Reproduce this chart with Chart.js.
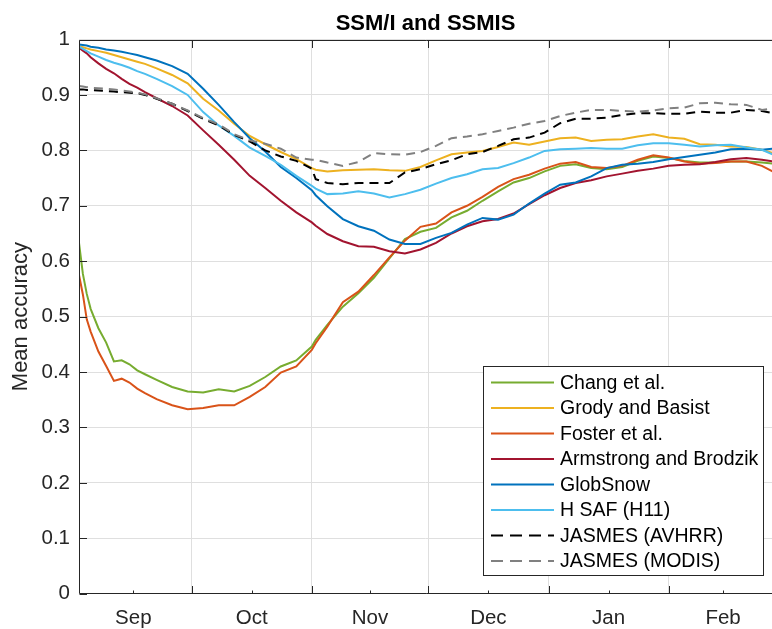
<!DOCTYPE html>
<html><head><meta charset="utf-8">
<script src="https://cdn.jsdelivr.net/npm/chart.js@4.4.0/dist/chart.umd.min.js"></script>
<style>html,body{margin:0;padding:0;background:#fff;}#wrap{width:772px;height:629px;position:relative;}</style>
</head><body><div id="wrap"><canvas id="c" width="772" height="629"></canvas></div>
<script>
// x values: day of season (Sep 1 = 1, Oct 1 = 31, Nov 1 = 62, Dec 1 = 92, Jan 1 = 123, Feb 1 = 154)
const days = [2,3,4,5,7,9,11,13,15,17,19,22,26,30,34,38,42,46,50,54,58,62,63,66,70,74,78,82,86,90,94,98,102,106,110,114,118,122,126,130,134,138,142,146,150,154,158,162,166,170,174,178,181];

const changEtAl = [0.633,0.577,0.541,0.514,0.479,0.453,0.419,0.421,0.414,0.403, 0.396,0.386,0.373,0.365,0.363,0.369,0.365,0.375,0.391,0.410, 0.421,0.446,0.458,0.485,0.518,0.542,0.570,0.605,0.640,0.653, 0.660,0.679,0.691,0.709,0.726,0.742,0.750,0.762,0.772,0.775, 0.768,0.766,0.770,0.781,0.789,0.786,0.781,0.778,0.778,0.780, 0.780,0.778,0.776];
const grodyBasist = [0.988,0.986,0.984,0.982,0.979,0.976,0.972,0.968,0.964,0.960, 0.956,0.948,0.936,0.921,0.893,0.872,0.848,0.826,0.811,0.797, 0.784,0.768,0.765,0.762,0.764,0.765,0.766,0.764,0.763,0.770, 0.782,0.793,0.796,0.799,0.806,0.814,0.810,0.816,0.822,0.823, 0.817,0.819,0.820,0.825,0.829,0.823,0.821,0.811,0.810,0.807, 0.806,0.801,0.795];
const fosterEtAl = [0.575,0.540,0.495,0.473,0.437,0.411,0.384,0.388,0.381,0.370, 0.362,0.351,0.340,0.333,0.335,0.340,0.340,0.355,0.373,0.399, 0.410,0.440,0.452,0.482,0.526,0.545,0.575,0.607,0.637,0.662, 0.668,0.688,0.700,0.716,0.734,0.748,0.756,0.767,0.776,0.779, 0.770,0.768,0.772,0.783,0.791,0.787,0.780,0.776,0.777,0.780, 0.780,0.772,0.761];
const armstrongBrodzik = [0.985,0.980,0.975,0.968,0.957,0.947,0.939,0.929,0.920,0.913, 0.905,0.894,0.880,0.863,0.836,0.810,0.783,0.754,0.732,0.709, 0.688,0.670,0.664,0.649,0.636,0.627,0.626,0.618,0.614,0.621, 0.633,0.650,0.663,0.672,0.676,0.686,0.703,0.719,0.732,0.741, 0.746,0.753,0.758,0.763,0.767,0.772,0.774,0.775,0.779,0.784, 0.786,0.783,0.780];
const globSnow = [0.991,0.990,0.989,0.987,0.985,0.982,0.980,0.978,0.975,0.972, 0.968,0.962,0.952,0.938,0.911,0.882,0.851,0.822,0.798,0.770, 0.750,0.728,0.719,0.699,0.676,0.663,0.655,0.639,0.631,0.631, 0.642,0.651,0.666,0.678,0.675,0.684,0.704,0.722,0.738,0.742, 0.753,0.768,0.774,0.776,0.779,0.784,0.788,0.792,0.796,0.802, 0.803,0.801,0.803];
const hSafH11 = [0.987,0.983,0.979,0.975,0.969,0.963,0.958,0.954,0.949,0.943, 0.938,0.929,0.916,0.900,0.869,0.845,0.826,0.805,0.790,0.774, 0.754,0.736,0.731,0.721,0.722,0.726,0.722,0.715,0.721,0.729, 0.740,0.750,0.757,0.766,0.768,0.777,0.787,0.799,0.802,0.803, 0.804,0.803,0.803,0.809,0.813,0.813,0.810,0.807,0.809,0.810, 0.805,0.801,0.792];
const jasmesAvhrr = [0.910,0.910,0.909,0.909,0.908,0.907,0.906,0.905,0.904,0.903, 0.900,0.893,0.884,0.871,0.857,0.845,0.828,0.816,0.800,0.789, 0.781,0.767,0.748,0.741,0.739,0.741,0.741,0.741,0.760,0.766, 0.775,0.782,0.793,0.797,0.808,0.820,0.823,0.832,0.849,0.857, 0.857,0.859,0.864,0.867,0.867,0.866,0.866,0.870,0.868,0.868, 0.873,0.871,0.867];
const jasmesModis = [0.916,0.915,0.914,0.913,0.912,0.911,0.910,0.908,0.906,0.904, 0.901,0.894,0.884,0.872,0.858,0.847,0.829,0.818,0.812,0.803, 0.787,0.783,0.783,0.778,0.772,0.779,0.795,0.793,0.792,0.797, 0.808,0.822,0.825,0.829,0.835,0.841,0.848,0.853,0.862,0.868, 0.873,0.873,0.871,0.870,0.872,0.876,0.877,0.885,0.886,0.883, 0.882,0.873,0.876];

const seriesNames = ['Chang et al.','Grody and Basist','Foster et al.','Armstrong and Brodzik','GlobSnow','H SAF (H11)','JASMES (AVHRR)','JASMES (MODIS)'];
const seriesValues = [changEtAl, grodyBasist, fosterEtAl, armstrongBrodzik, globSnow, hSafH11, jasmesAvhrr, jasmesModis];
const seriesColors = ['#77AC30','#EDB120','#D95319','#A2142F','#0072BD','#4DBEEE','#000000','#808080'];
const seriesDashed = [false,false,false,false,false,false,true,true];

const monthStarts = [31,62,92,123,154];
const monthMids = [16,46.5,77,107.5,138.5,168];
const monthLabels = ['Sep','Oct','Nov','Dec','Jan','Feb'];
const yTickValues = [0,0.1,0.2,0.3,0.4,0.5,0.6,0.7,0.8,0.9,1];
const yTickLabels = ['0','0.1','0.2','0.3','0.4','0.5','0.6','0.7','0.8','0.9','1'];

const FONT = '"Liberation Sans", Arial, Helvetica, sans-serif';
Chart.defaults.font.family = FONT;
const AX = '#262626';
const GRID = '#dfdfdf';

const datasets = seriesNames.map((name, i) => ({
  label: name,
  data: days.map((d, k) => ({x: d, y: seriesValues[i][k]})),
  borderColor: seriesColors[i],
  backgroundColor: seriesColors[i],
  borderWidth: 2,
  borderDash: seriesDashed[i] ? [9, 6] : [],
  pointRadius: 0,
  tension: 0,
  fill: false,
  order: seriesNames.length - i
}));

const axesDecor = {
  id: 'axesDecor',
  afterDatasetsDraw(chart) {
    const {ctx, chartArea: a, scales: {x, y}} = chart;
    ctx.save();
    ctx.strokeStyle = AX; ctx.lineWidth = 1; ctx.setLineDash([]);
    const L = Math.round(a.left) + 0.5, T = Math.round(a.top) + 0.5, B = Math.round(a.bottom) - 0.5, R = a.right + 2;
    ctx.beginPath();
    ctx.moveTo(L, T); ctx.lineTo(R, T);
    ctx.moveTo(L, T); ctx.lineTo(L, B);
    ctx.moveTo(L, B); ctx.lineTo(R, B);
    monthStarts.forEach(v => {
      const px = Math.round(x.getPixelForValue(v)) + 0.5;
      ctx.moveTo(px, B); ctx.lineTo(px, B - 7.5);
      ctx.moveTo(px, T); ctx.lineTo(px, T + 7.5);
    });
    monthMids.forEach(v => {
      const px = Math.round(x.getPixelForValue(v)) + 0.5;
      ctx.moveTo(px, B); ctx.lineTo(px, B - 3);
    });
    yTickValues.forEach(v => {
      const py = Math.round(y.getPixelForValue(v)) + 0.5;
      ctx.moveTo(L, py); ctx.lineTo(L + 7.5, py);
    });
    ctx.stroke();
    ctx.restore();
  }
};

const boxLegend = {
  id: 'boxLegend',
  afterDraw(chart) {
    const ctx = chart.ctx;
    ctx.save();
    const bx = 483.5, by = 366.5, bw = 280, bh = 209;
    ctx.fillStyle = '#fff'; ctx.fillRect(bx, by, bw, bh);
    ctx.strokeStyle = AX; ctx.lineWidth = 1; ctx.setLineDash([]);
    ctx.strokeRect(bx, by, bw, bh);
    ctx.font = '19.5px ' + FONT;
    ctx.textBaseline = 'middle';
    ctx.textAlign = 'left';
    chart.data.datasets.forEach((ds, i) => {
      const yy = 382.5 + i * 25.5;
      ctx.strokeStyle = ds.borderColor; ctx.lineWidth = 2;
      ctx.setLineDash(ds.borderDash && ds.borderDash.length ? [12, 7] : []);
      ctx.beginPath(); ctx.moveTo(491, yy); ctx.lineTo(554, yy); ctx.stroke();
      ctx.setLineDash([]);
      ctx.fillStyle = '#000';
      ctx.fillText(ds.label, 560, yy + 1);
    });
    ctx.restore();
  }
};

new Chart(document.getElementById('c'), {
  type: 'line',
  data: {datasets},
  plugins: [axesDecor, boxLegend],
  options: {
    responsive: false,
    animation: false,
    events: [],
    layout: {padding: 0},
    plugins: {
      legend: {display: false},
      tooltip: {enabled: false},
      title: {
        display: true, text: 'SSM/I and SSMIS', fullSize: false, color: '#000',
        font: {size: 22, weight: 'bold', family: FONT, lineHeight: 1.2},
        padding: {top: 11, bottom: 2.1}
      }
    },
    scales: {
      x: {
        type: 'linear', min: 2, max: 180.6,
        afterBuildTicks: s => { s.ticks = monthStarts.concat(monthMids).sort((a, b) => a - b).map(v => ({value: v})); },
        ticks: {
          autoSkip: false, maxRotation: 0, minRotation: 0, padding: 12, color: AX,
          font: {size: 20.5, family: FONT},
          callback: v => { const i = monthMids.indexOf(v); return i >= 0 ? monthLabels[i] : ''; }
        },
        grid: {
          drawTicks: false, lineWidth: 1,
          color: c => (c.tick && monthStarts.includes(c.tick.value)) ? GRID : 'rgba(0,0,0,0)'
        },
        border: {display: false},
        afterFit: s => { s.height = 35.3; }
      },
      y: {
        min: 0, max: 1,
        afterBuildTicks: s => { s.ticks = yTickValues.map(v => ({value: v})); },
        ticks: {
          padding: 9, color: AX, font: {size: 20.5, family: FONT},
          callback: (v, i) => yTickLabels[i]
        },
        grid: {drawTicks: false, color: GRID, lineWidth: 1},
        border: {display: false},
        title: {display: true, text: 'Mean accuracy', color: AX, font: {size: 22, family: FONT}, padding: {top: 8, bottom: 0}},
        afterFit: s => { s.width = 79; }
      }
    }
  }
});
</script></body></html>
